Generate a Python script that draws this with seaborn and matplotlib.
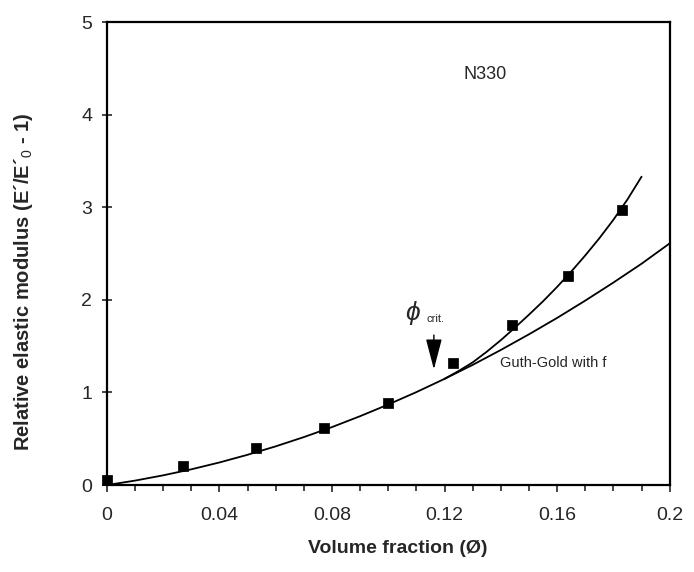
import pandas as pd
import numpy as np
import matplotlib
matplotlib.use("Agg")
import matplotlib.pyplot as plt
from matplotlib.ticker import MultipleLocator
import seaborn as sns

# measured points (N330)
phi_data = [0.0, 0.027, 0.053, 0.077, 0.100, 0.123, 0.144, 0.164, 0.183]
mod_data = [0.05, 0.21, 0.40, 0.62, 0.89, 1.32, 1.73, 2.26, 2.97]

# Guth-Gold with f curve
phi_gg = [0.00, 0.01, 0.02, 0.03, 0.04, 0.05, 0.06, 0.07, 0.08, 0.09, 0.10,
          0.11, 0.12, 0.13, 0.14, 0.15, 0.16, 0.17, 0.18, 0.19, 0.20]
mod_gg = [0.0, 0.048, 0.105, 0.170, 0.244, 0.327, 0.418, 0.518, 0.626, 0.744, 0.870,
          1.004, 1.147, 1.298, 1.459, 1.628, 1.805, 1.992, 2.187, 2.390, 2.61]

# upper branch through the data above phi_crit
phi_up = [0.120, 0.125, 0.130, 0.135, 0.140, 0.145, 0.150, 0.155,
          0.160, 0.165, 0.170, 0.175, 0.180, 0.185, 0.190]
mod_up = [1.147, 1.232, 1.325, 1.440, 1.565, 1.700, 1.840, 1.985,
          2.140, 2.305, 2.480, 2.665, 2.865, 3.085, 3.33]

sns.set_style("ticks")
plt.rcParams['font.family'] = ['Liberation Sans', 'DejaVu Sans']
plt.rcParams['mathtext.fontset'] = 'custom'
plt.rcParams['mathtext.rm'] = 'Liberation Sans'
plt.rcParams['mathtext.it'] = 'Liberation Sans:italic'

df_pts = pd.DataFrame({'phi': phi_data, 'mod': mod_data})
df_gg = pd.DataFrame({'phi': phi_gg, 'mod': mod_gg})
df_up = pd.DataFrame({'phi': phi_up, 'mod': mod_up})

f, ax = plt.subplots(figsize=(6.94, 5.72), dpi=100)
f.subplots_adjust(left=0.154, right=0.965, bottom=0.152, top=0.9615)

sns.lineplot(x='phi', y='mod', data=df_gg, ax=ax, color='black', lw=1.3, sort=False)
sns.lineplot(x='phi', y='mod', data=df_up, ax=ax, color='black', lw=1.3, sort=False)
sns.scatterplot(x='phi', y='mod', data=df_pts, ax=ax, color='black', marker='s',
                s=42, edgecolor='black', zorder=5, clip_on=False)

ax.set_xlim(0, 0.2)
ax.set_ylim(0, 5)
ax.set_xticks([0, 0.04, 0.08, 0.12, 0.16, 0.2])
ax.set_xticklabels(['0', '0.04', '0.08', '0.12', '0.16', '0.2'])
ax.xaxis.set_minor_locator(MultipleLocator(0.01))
ax.set_yticks([0, 1, 2, 3, 4, 5])
ax.tick_params(axis='x', which='major', direction='out', length=5, width=1.2,
               labelsize=14, pad=11)
ax.tick_params(axis='x', which='minor', direction='out', length=4, width=1.2)
ax.tick_params(axis='y', which='major', direction='inout', length=7, width=1.2,
               labelsize=14, pad=7)
for s in ax.spines.values():
    s.set_visible(True)
    s.set_linewidth(1.6)
    s.set_color('black')

ax.set_xlabel('Volume fraction (Ø)', fontsize=14, fontweight='bold')
ax.set_ylabel("Relative elastic modulus (E\u00b4/E\u00b4$_0$ - 1)", fontsize=14.5,
              fontweight='bold')
ax.xaxis.set_label_coords(0.517, -0.118)
ax.yaxis.set_label_coords(-0.128, 0.44)

ax.text(0.1345, 4.43, 'N330', fontsize=13, ha='center', va='center')
ax.text(0.1396, 1.32, 'Guth-Gold with f', fontsize=10.5, ha='left', va='center')
ax.text(0.1058, 1.86, r'$\phi$', fontsize=19, ha='left', va='center')
ax.text(0.1135, 1.79, 'crit.', fontsize=8, ha='left', va='center')
ax.annotate('', xy=(0.1162, 1.25), xytext=(0.1162, 1.62),
            arrowprops=dict(arrowstyle='-|>,head_length=1.9,head_width=0.5',
                            color='black', lw=1.0, mutation_scale=10,
                            shrinkA=0, shrinkB=0))

plt.savefig('out.png', dpi=100)
